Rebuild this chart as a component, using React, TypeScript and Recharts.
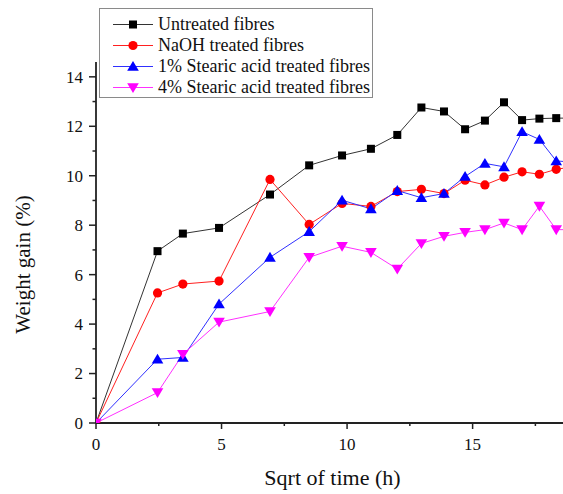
import React from 'react';
import { LineChart, Line, XAxis, YAxis, Legend, Label } from 'recharts';

const sqrtTime = [0, 2.45, 3.46, 4.9, 6.93, 8.49, 9.8, 10.95, 12.0, 12.96, 13.86, 14.7, 15.49, 16.25, 16.97, 17.66, 18.33, 18.97];
const untreated = [0, 6.95, 7.66, 7.89, 9.24, 10.42, 10.82, 11.09, 11.65, 12.76, 12.6, 11.88, 12.23, 12.97, 12.25, 12.31, 12.33, 12.33];
const naoh = [0, 5.26, 5.62, 5.74, 9.85, 8.03, 8.88, 8.76, 9.36, 9.45, 9.28, 9.82, 9.63, 9.94, 10.16, 10.06, 10.26, 10.36];
const stearic1 = [0, 2.58, 2.65, 4.81, 6.7, 7.74, 9.01, 8.66, 9.4, 9.11, 9.28, 9.97, 10.5, 10.36, 11.78, 11.47, 10.6, 10.55];
const stearic4 = [0, 1.23, 2.78, 4.08, 4.51, 6.7, 7.15, 6.9, 6.23, 7.26, 7.55, 7.71, 7.82, 8.09, 7.82, 8.77, 7.82, 7.82];

const xTicks = [0, 2.5, 5, 7.5, 10, 12.5, 15, 17.5];
const yTicks = [0, 1, 2, 3, 4, 5, 6, 7, 8, 9, 10, 11, 12, 13, 14];

const seriesNames = [
  'Untreated fibres',
  'NaOH treated fibres',
  '1% Stearic acid treated fibres',
  '4% Stearic acid treated fibres',
];
const seriesKeys = ['untreated', 'naoh', 'stearic1', 'stearic4'];
const seriesColors = ['#000000', '#ff0000', '#0000ff', '#ff00ff'];
const lineColors = ['#333333', '#ff2020', '#3030ff', '#ff30ff'];
const seriesShapes = ['square', 'circle', 'up', 'down'];

const data = sqrtTime.map((x, i) => ({
  x,
  untreated: untreated[i],
  naoh: naoh[i],
  stearic1: stearic1[i],
  stearic4: stearic4[i],
}));

const FONT = 'Liberation Serif';
const AXIS = '#222222';

function markerShape(shape: string, cx: number, cy: number, color: string, key?: any) {
  if (shape === 'square') {
    return <rect key={key} x={cx - 4} y={cy - 4} width={8} height={8} fill={color} />;
  }
  if (shape === 'circle') {
    return <circle key={key} cx={cx} cy={cy} r={4.6} fill={color} />;
  }
  if (shape === 'up') {
    return (
      <polygon
        key={key}
        points={`${cx},${cy - 5.5} ${cx + 5.8},${cy + 4.3} ${cx - 5.8},${cy + 4.3}`}
        fill={color}
      />
    );
  }
  return (
    <polygon
      key={key}
      points={`${cx - 5.8},${cy - 4.3} ${cx + 5.8},${cy - 4.3} ${cx},${cy + 5.5}`}
      fill={color}
    />
  );
}

const makeDot = (idx: number) => (props: any) => {
  const { cx, cy, index } = props;
  if (cx == null || cy == null) return <g key={`d-${idx}-${index}`} />;
  return markerShape(seriesShapes[idx], cx, cy, seriesColors[idx], `d-${idx}-${index}`);
};

const XTick = (props: any) => {
  const { x, y, payload } = props;
  const major = payload.value % 5 === 0;
  return (
    <g>
      <line x1={x} y1={y} x2={x} y2={y + (major ? 6 : 3)} stroke={AXIS} strokeWidth={1.5} />
      {major && (
        <text x={x} y={y + 27} textAnchor="middle" fontFamily={FONT} fontSize={17} fill="#111">
          {payload.value}
        </text>
      )}
    </g>
  );
};

const YTick = (props: any) => {
  const { x, y, payload } = props;
  const major = payload.value % 2 === 0;
  return (
    <g>
      <line x1={x} y1={y} x2={x - (major ? 7 : 3.5)} y2={y} stroke={AXIS} strokeWidth={1.5} />
      {major && (
        <text x={x - 13} y={y} dy="0.35em" textAnchor="end" fontFamily={FONT} fontSize={17} fill="#111">
          {payload.value}
        </text>
      )}
    </g>
  );
};

const LegendBox = () => (
  <div
    style={{
      border: '1px solid #8a8a8a',
      background: '#fff',
      boxSizing: 'border-box',
      width: 274,
      height: 90,
      padding: '5px 0 0 12px',
      fontFamily: FONT,
      fontSize: 18,
      color: '#111',
    }}
  >
    {seriesNames.map((name, i) => (
      <div key={name} style={{ display: 'flex', alignItems: 'center', height: 21 }}>
        <svg width={42} height={21} style={{ display: 'block' }}>
          <line x1={1} y1={10.5} x2={41} y2={10.5} stroke={lineColors[i]} strokeWidth={1} />
          {markerShape(seriesShapes[i], 21, 10.5, seriesColors[i])}
        </svg>
        <span style={{ marginLeft: 4, lineHeight: '21px', whiteSpace: 'nowrap' }}>{name}</span>
      </div>
    ))}
  </div>
);

export default function App() {
  return (
    <div style={{ width: 563, height: 494, boxSizing: 'border-box', padding: '8px 0 0 8px', background: '#fff', fontFamily: FONT }}>
      <style>{'html,body{margin:0;padding:0;overflow:hidden;} svg text{font-family:"Liberation Serif";}'}</style>
      <LineChart
        width={555}
        height={486}
        data={data}
        margin={{ top: 54, right: 0, bottom: 0, left: 0 }}
      >
        <XAxis
          dataKey="x"
          type="number"
          domain={[0, 18.6]}
          allowDataOverflow
          ticks={xTicks}
          interval={0}
          tickSize={0}
          tickMargin={0}
          tickLine={false}
          tick={<XTick />}
          height={71}
          axisLine={{ stroke: AXIS, strokeWidth: 1.8 }}
        >
          <Label
            content={(p: any) => {
              const vb = p.viewBox || { x: 88, y: 415, width: 467, height: 71 };
              return (
                <text
                  x={vb.x + vb.width / 2 + 3}
                  y={477}
                  textAnchor="middle"
                  fontFamily={FONT}
                  fontSize={22}
                  fill="#111"
                >
                  Sqrt of time (h)
                </text>
              );
            }}
          />
        </XAxis>
        <YAxis
          type="number"
          domain={[0, 14.6]}
          allowDataOverflow
          ticks={yTicks}
          interval={0}
          tickSize={0}
          tickMargin={0}
          tickLine={false}
          tick={<YTick />}
          width={88}
          axisLine={{ stroke: AXIS, strokeWidth: 1.8 }}
        >
          <Label
            content={() => (
              <text
                x={21.5}
                y={256.5}
                transform="rotate(-90 21.5 256.5)"
                textAnchor="middle"
                fontFamily={FONT}
                fontSize={21}
                fill="#111"
              >
                Weight gain (%)
              </text>
            )}
          />
        </YAxis>
        <Legend
          layout="vertical"
          align="center"
          verticalAlign="middle"
          wrapperStyle={{ left: 91, top: 0, width: 274, height: 90 }}
          content={() => <LegendBox />}
        />
        {seriesKeys.map((k, i) => (
          <Line
            key={k}
            type="linear"
            dataKey={k}
            name={seriesNames[i]}
            stroke={lineColors[i]}
            strokeWidth={1}
            dot={makeDot(i)}
            activeDot={false}
            isAnimationActive={false}
          />
        ))}
      </LineChart>
    </div>
  );
}
